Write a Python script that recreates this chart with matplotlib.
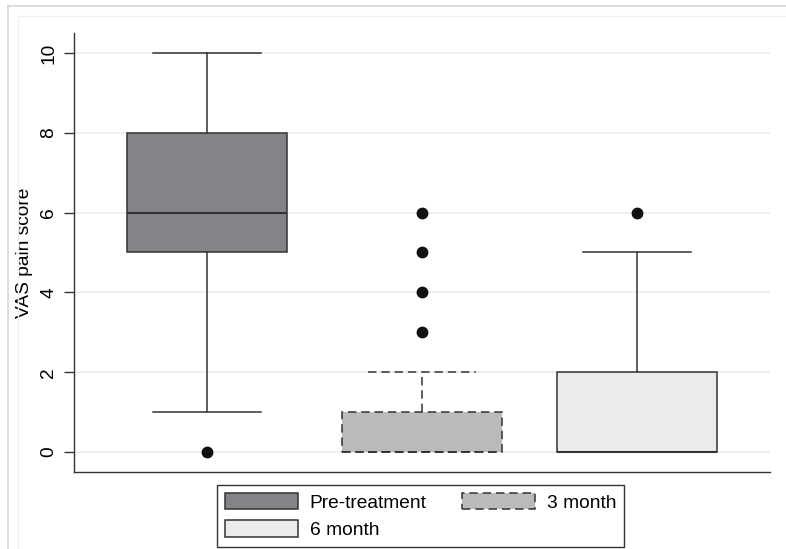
import matplotlib.pyplot as plt
from matplotlib.patches import Patch
from matplotlib.lines import Line2D

plt.rcParams['font.family'] = ['Liberation Sans', 'DejaVu Sans']

groups = ["Pre-treatment", "3 month", "6 month"]
q1 = [5, 0, 0]
med = [6, 0, 0]
q3 = [8, 1, 2]
whislo = [1, 0, 0]
whishi = [10, 2, 5]
fliers = [[0], [3, 4, 5, 6], [6]]

fills = ["#838487", "#b9babc", "#ebebec"]
dash = (0, (5.5, 3.2))
styles = ["-", dash, "-"]
edge = "#333333"
fs = 13.8

fig = plt.figure(figsize=(7.86, 5.49), dpi=100)
ax = fig.add_axes([0.0941, 0.1403, 0.8855, 0.7996])

# faint graph-region frame like the original export
fig.add_artist(Line2D([8/786, 8/786], [0, 1 - 6/549], color="#d6d6d6", lw=1.2))
fig.add_artist(Line2D([8/786, 1], [1 - 6/549, 1 - 6/549], color="#d6d6d6", lw=1.2))
fig.add_artist(Line2D([18/786, 18/786], [0, 1 - 16/549], color="#f1f1f1", lw=1))
fig.add_artist(Line2D([18/786, 1], [1 - 16/549, 1 - 16/549], color="#f1f1f1", lw=1))

for i in range(len(groups)):
    st = [dict(q1=q1[i], med=med[i], q3=q3[i], whislo=whislo[i],
               whishi=whishi[i], fliers=fliers[i])]
    ls = styles[i]
    lw = 1.1
    ax.bxp(st, positions=[i + 1], widths=0.744, capwidths=0.5,
           patch_artist=True, manage_ticks=False,
           boxprops=dict(facecolor=fills[i], edgecolor=edge, linewidth=lw, linestyle=ls),
           medianprops=dict(color=edge, linewidth=lw + 0.4 if i != 1 else lw, linestyle=ls),
           whiskerprops=dict(color=edge, linewidth=lw, linestyle=ls),
           capprops=dict(color=edge, linewidth=lw, linestyle=ls),
           flierprops=dict(marker="o", markersize=7.5, markerfacecolor="#111111",
                           markeredgecolor="#111111"))

ax.set_xlim(0.381, 3.619)
ax.set_ylim(-0.5, 10.5)
ax.set_yticks([0, 2, 4, 6, 8, 10])
ax.set_yticklabels(["0", "2", "4", "6", "8", "10"], rotation=90, va="center")
ax.set_xticks([])
ax.tick_params(axis="y", length=7, width=1, color=edge, labelsize=fs, pad=5)
ax.set_ylabel("VAS pain score", fontsize=fs, labelpad=5)
ax.yaxis.grid(True, color="#ebebeb", linewidth=1.2)
ax.set_axisbelow(True)
for s in ["top", "right"]:
    ax.spines[s].set_visible(False)
for s in ["left", "bottom"]:
    ax.spines[s].set_color(edge)
    ax.spines[s].set_linewidth(1)

handles = [
    Patch(facecolor=fills[0], edgecolor=edge, linewidth=1.1, label=groups[0]),
    Patch(facecolor=fills[2], edgecolor=edge, linewidth=1.1, label=groups[2]),
    Patch(facecolor=fills[1], edgecolor=edge, linewidth=1.1, linestyle=dash, label=groups[1]),
]
leg = fig.legend(handles=handles, ncol=2, loc="upper center",
                 bbox_to_anchor=(0.535, 1 - 485/549), fontsize=fs,
                 handlelength=3.8, handleheight=0.94, handletextpad=0.62,
                 columnspacing=1.85, labelspacing=0.45, borderpad=0.42,
                 borderaxespad=0, fancybox=False, framealpha=1, edgecolor=edge)
leg.get_frame().set_linewidth(1)

fig.savefig("out.png", dpi=100)
